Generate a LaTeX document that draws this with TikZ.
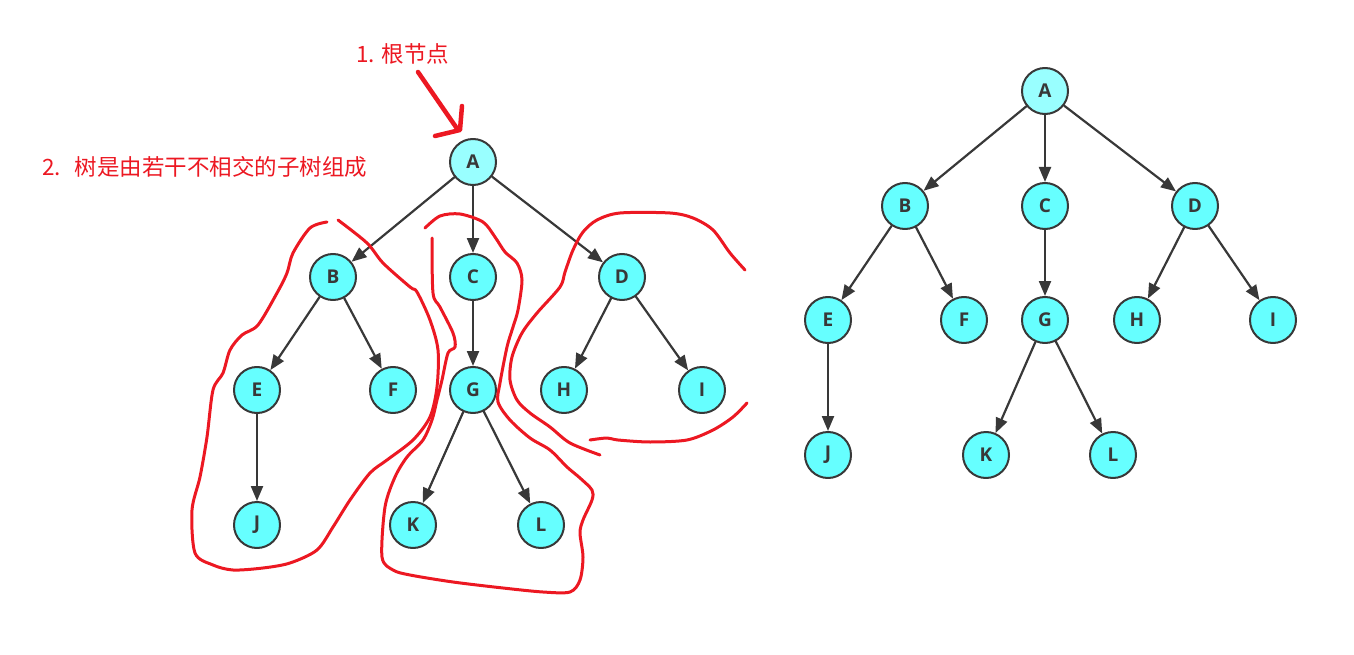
\documentclass[tikz,border=0pt]{standalone}
\usepackage{fontspec}
\setmainfont{Open Sans}
\newfontfamily\cjk{Noto Sans CJK SC}
\usetikzlibrary{arrows.meta}
\definecolor{nodefill}{HTML}{66FFFF}
\definecolor{rootfill}{HTML}{99FFFF}
\definecolor{edgegray}{HTML}{383838}
\definecolor{pen}{RGB}{236,24,34}
\tikzset{
  vertex/.style={circle,draw=edgegray,line width=2pt,fill=nodefill,minimum size=46pt,inner sep=0pt,font=\fontsize{19}{19}\selectfont\bfseries,text=edgegray},
  root/.style={vertex,fill=rootfill},
  link/.style={draw=edgegray,line width=2.2pt,-{Triangle[length=15pt,width=12pt]}},
  redpen/.style={draw=pen,line width=3pt},
  note/.style={text=pen,font=\cjk\fontsize{22.5}{22.5}\selectfont,inner sep=0pt}
}
\begin{document}
\begin{tikzpicture}[x=1pt,y=-1pt,line join = round, line cap = round]
			\useasboundingbox (0,0) rectangle (1354,655);
			\node[root] (A) at (473,162) {A};
			\node[vertex] (B) at (333,277) {B};
			\node[vertex] (C) at (473,277) {C};
			\node[vertex] (D) at (622,277) {D};
			\node[vertex] (E) at (257,390) {E};
			\node[vertex] (F) at (393,390) {F};
			\node[vertex] (G) at (473,390) {G};
			\node[vertex] (H) at (564,390) {H};
			\node[vertex] (I) at (702,390) {I};
			\node[vertex] (J) at (257,525) {J};
			\node[vertex] (K) at (413,525) {K};
			\node[vertex] (L) at (541,525) {L};
			\draw[link] (A)--(B);
			\draw[link] (A)--(C);
			\draw[link] (A)--(D);
			\draw[link] (B)--(E);
			\draw[link] (B)--(F);
			\draw[link] (C)--(G);
			\draw[link] (D)--(H);
			\draw[link] (D)--(I);
			\draw[link] (E)--(J);
			\draw[link] (G)--(K);
			\draw[link] (G)--(L);
			\node[root] (RA) at (1045,91) {A};
			\node[vertex] (RB) at (905,206) {B};
			\node[vertex] (RC) at (1045,206) {C};
			\node[vertex] (RD) at (1195,206) {D};
			\node[vertex] (RE) at (828,320) {E};
			\node[vertex] (RF) at (964,320) {F};
			\node[vertex] (RG) at (1045,320) {G};
			\node[vertex] (RH) at (1137,320) {H};
			\node[vertex] (RI) at (1273,320) {I};
			\node[vertex] (RJ) at (828,455) {J};
			\node[vertex] (RK) at (986,455) {K};
			\node[vertex] (RL) at (1113,455) {L};
			\draw[link] (RA)--(RB);
			\draw[link] (RA)--(RC);
			\draw[link] (RA)--(RD);
			\draw[link] (RB)--(RE);
			\draw[link] (RB)--(RF);
			\draw[link] (RC)--(RG);
			\draw[link] (RD)--(RH);
			\draw[link] (RD)--(RI);
			\draw[link] (RE)--(RJ);
			\draw[link] (RG)--(RK);
			\draw[link] (RG)--(RL);
			\node[note,anchor=west] (root note) at (356,54) {1. 根节点};
			\node[note,anchor=west] (tree note) at (42,167) {2.\hspace{14pt}树是由若干不相交的子树组成};
			\draw[redpen,line width=4.5pt] (418,72)--(458,130);
			\draw[redpen,line width=4.5pt] (462,106)--(460,130)--(435,136);
			\draw[redpen] plot[smooth] coordinates {(327,222) (310,228) (293,253) (287,273) (277,293) (258,325) (242,335) (230,350) (223,373) (213,390) (207,437) (200,477) (192,510) (195,553) (213,565) (233,570) (263,568) (290,563) (317,550) (333,527) (350,500) (370,473) (387,460) (413,440) (430,417) (437,387) (438,350) (430,320) (417,292) (410,287) (383,263) (367,243) (338,220)};
			\draw[redpen] plot[smooth] coordinates {(432,238) (433,293) (440,307) (453,333) (455,347) (448,353) (442,380) (437,400) (432,420) (423,440) (407,457) (395,477) (385,507) (382,557) (393,570) (410,575) (453,582) (503,588) (543,592) (570,592) (580,580) (583,557) (580,533) (583,520) (592,500) (592,490) (580,478) (567,467) (550,450) (530,438) (510,420) (498,402) (500,383) (507,347) (513,327) (518,310) (522,280) (517,263) (505,252) (495,237) (483,222) (460,214) (440,216) (425,228)};
			\draw[redpen] plot[smooth] coordinates {(745,270) (730,253) (713,230) (693,218) (670,213) (620,213) (597,220) (583,232) (573,250) (565,272) (560,287) (537,313) (522,333) (512,357) (510,380) (517,400) (530,413) (550,427) (570,443) (600,455)};
			\draw[redpen] plot[smooth] coordinates {(747,403) (733,417) (713,430) (687,440) (650,442) (618,440) (607,438) (590,440)};
		\end{tikzpicture}
\end{document}
